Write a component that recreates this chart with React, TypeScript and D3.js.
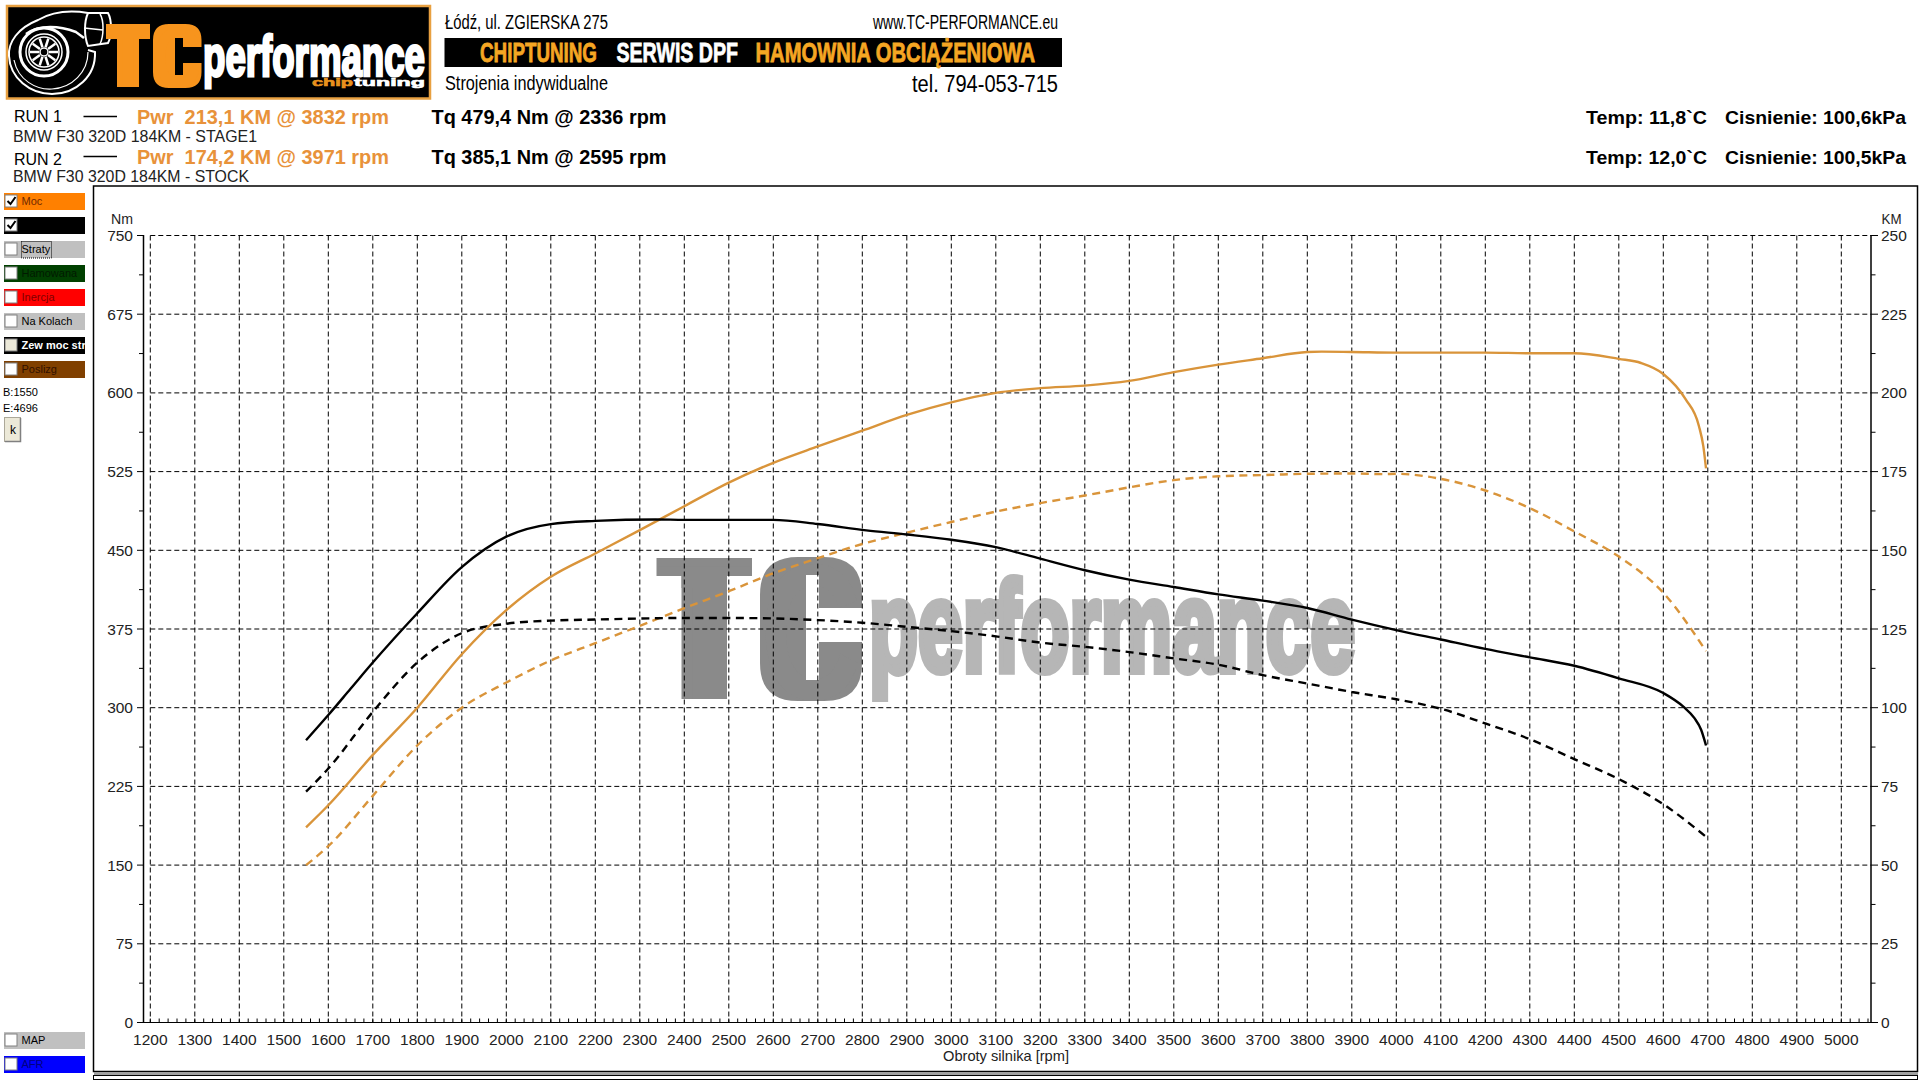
import React from "react";
import * as d3 from "d3";

const rpmTq1 = [1550,1600,1650,1700,1800,1900,2000,2100,2200,2336,2400,2500,2600,2700,2809,2900,3000,3100,3200,3300,3400,3500,3600,3700,3800,3900,4000,4100,4200,4300,4400,4500,4600,4645,4670,4685,4696];
const tq1 = [269,293,318,343,390,434,463,475,478,479.4,479,479,479,475,469,465,460,453,442,431,422,415,408,402,395,384,374,365,356,348,340,328,314,301,290,279,264];
const rpmTq2 = [1550,1600,1700,1800,1900,2000,2100,2200,2300,2400,2500,2595,2700,2800,2900,3000,3100,3200,3300,3400,3500,3600,3700,3800,3900,4000,4100,4200,4300,4400,4500,4600,4696];
const tq2 = [220,242,296,343,371,380,383,384,385,385.5,385.5,385.1,383.5,381,377,373,368,362,358,353,347,341,331,323,315,308,299,285,270,251,232,208,177];
const rpmPw1 = [1550,1600,1700,1800,1900,2000,2100,2200,2300,2400,2500,2600,2700,2800,2900,3000,3100,3200,3300,3400,3500,3600,3700,3800,3832,3900,4000,4100,4200,4300,4400,4500,4550,4600,4650,4680,4690,4696];
const pw1 = [62,69,85,100,117,131,141.6,149,156.4,164,171.5,177.8,183,188,193,197,200,201.5,202.3,203.8,206.6,209,211,213,213.1,213,212.8,212.8,212.8,212.6,212.6,210.8,209.5,206,198,189.5,183,176];
const rpmPw2 = [1550,1600,1700,1800,1900,2000,2100,2200,2300,2400,2500,2600,2700,2800,2900,3000,3100,3200,3300,3400,3500,3600,3700,3800,3900,3971,4000,4100,4200,4300,4400,4500,4600,4696];
const pw2 = [50,56,72,88,100,108,115,120.5,126,131.6,137,142.7,147.5,152,155.6,159,162.3,165,167.4,170,172.3,173.5,173.9,174.3,174.4,174.2,174.3,172.7,169,163.4,156,148,136.5,118];

const rpmTicks = d3.range(1200, 5001, 100);
const nmTicks = d3.range(0, 751, 75);
const kmTicks = d3.range(0, 251, 25);

const buttonsTop = [
  { label: "Moc", bg: "#ff8000", fg: "#702800", checked: true },
  { label: "", bg: "#000000", fg: "#000000", checked: true },
  { label: "Straty", bg: "#c0c0c0", fg: "#000000", checked: false },
  { label: "Hamowana", bg: "#004000", fg: "#001a00", checked: false },
  { label: "Inercja", bg: "#ff0000", fg: "#800000", checked: false },
  { label: "Na Kolach", bg: "#c0c0c0", fg: "#000000", checked: false },
  { label: "Zew moc str", bg: "#000000", fg: "#ffffff", checked: false },
  { label: "Poslizg", bg: "#804000", fg: "#301000", checked: false },
];
const buttonsBottom = [
  { label: "MAP", bg: "#c0c0c0", fg: "#000000", y: 1032 },
  { label: "AFR", bg: "#0000ff", fg: "#000080", y: 1056 },
];

const SANS = "'Liberation Sans', Arial, sans-serif";
const NARROW = "'Liberation Sans Narrow', 'Liberation Sans', sans-serif";
const ORANGE_TXT = "#e8923a";
const LINE_ORANGE = "#d9943a";

const x = d3.scaleLinear().domain([1200, 5000]).range([150.3, 1841.3]);
const yNm = d3.scaleLinear().domain([0, 750]).range([1022.5, 235.5]);
const yKm = d3.scaleLinear().domain([0, 250]).range([1022.5, 235.5]);

function T(p: any) {
  const { w, children, f, s, b, c, ...rest } = p;
  return (
    <text fontFamily={f || SANS} fontSize={s} fontWeight={b ? "bold" : "normal"} fill={c || "#000"}
      textLength={w} lengthAdjust={w ? "spacingAndGlyphs" : undefined} xmlSpace="preserve" {...rest}>
      {children}
    </text>
  );
}

function linePath(xs: number[], ys: number[], yScale: any) {
  const pts = xs.map((d, i) => [x(d), yScale(ys[i])] as [number, number]);
  return d3.line().curve(d3.curveMonotoneX)(pts) || "";
}

function cShape(x0: number, x1: number, y0: number, y1: number, r: number, a: number, b: number, c: number, d: number, e: number, f: number) {
  return `M${x0 + r} ${y0}H${x1 - r}Q${x1} ${y0} ${x1} ${y0 + r}V${e}H${b}V${c}H${a}V${d}H${b}V${f}H${x1}V${y1 - r}Q${x1} ${y1} ${x1 - r} ${y1}H${x0 + r}Q${x0} ${y1} ${x0} ${y1 - r}V${y0 + r}Q${x0} ${y0} ${x0 + r} ${y0}Z`;
}
function tShape(x0: number, x1: number, y0: number, y1: number, bar: number, s0: number, s1: number) {
  return `M${x0} ${y0}H${x1}V${y0 + bar}H${s1}V${y1}H${s0}V${y0 + bar}H${x0}Z`;
}

function BlockLetter({ id, d, fill, ch, X, w, y, s }: any) {
  return (
    <g>
      <clipPath id={id}><path d={d} /></clipPath>
      <path d={d} fill={fill} />
      <T x={X} y={y} w={w} s={s} b f={NARROW} c={fill} clipPath={`url(#${id})`}>{ch}</T>
    </g>
  );
}

function Check({ X, Y, on, beige }: any) {
  return (
    <g>
      <rect x={X} y={Y} width={12} height={12} fill={beige ? "#ece9d8" : "#fff"} stroke="#808080" strokeWidth={1} />
      {on && <path d={`M${X + 2.5} ${Y + 6}l3 3l5 -7`} fill="none" stroke="#000" strokeWidth={2} />}
    </g>
  );
}

function Logo() {
  return (
    <g>
      <rect x={7} y={6} width={423} height={92.5} fill="#000" stroke="#e8a040" strokeWidth={2.5} />
      <g fill="none" stroke="#fff">
        <path d="M88 13 C70 10 52 12 38 20 C18 28 8 42 9 56 C10 78 30 94 52 94 C76 94 96 76 95 52 L88 50" strokeWidth={2} />
        <path d="M14 60 C18 80 36 90 52 89 C72 88 88 72 88 52" strokeWidth={1.2} />
        <path d="M26 34 C40 24 60 26 76 32 L84 38" strokeWidth={2.5} />
        <circle cx={44} cy={52} r={24} strokeWidth={3} />
        <circle cx={44} cy={52} r={18} strokeWidth={1.5} />
        <circle cx={44} cy={52} r={15} strokeWidth={1.5} />
        <circle cx={44} cy={52} r={4} strokeWidth={1.5} />
        {[0, 36, 72, 108, 144, 180, 216, 252, 288, 324].map((a) => (
          <line key={a} x1={44 + 5 * Math.cos((a * Math.PI) / 180)} y1={52 + 5 * Math.sin((a * Math.PI) / 180)}
            x2={44 + 14 * Math.cos((a * Math.PI) / 180)} y2={52 + 14 * Math.sin((a * Math.PI) / 180)} strokeWidth={2.5} />
        ))}
        <path d="M88 13 L108 13 C112 20 112 36 108 43 L88 46 C84 36 84 22 88 13 Z" strokeWidth={2} />
        <path d="M84 28 L103 30 M100 14 C104 20 104 36 100 44" strokeWidth={1.5} />
      </g>
      <BlockLetter id="lt" d={tShape(106, 150, 24, 87, 15, 117, 139)} fill="#f7941d" ch="T" X={106} w={44} y={87} s={86} />
      <BlockLetter id="lc" d={cShape(153, 201.5, 24, 88, 16, 175, 183, 38, 75, 47, 63)} fill="#f7941d" ch="C" X={153} w={48} y={87} s={86} />
      <T x={203} y={75.5} w={222} s={58} b f={NARROW} c="#fff" stroke="#fff" strokeWidth={3}>performance</T>
      <rect x={311} y={77.5} width={115} height={9} fill="#000" />
      <T x={312} y={86} w={41} s={11} b c="#e8921e" stroke="#e8921e" strokeWidth={0.6}>chip</T>
      <T x={354} y={86} w={71} s={11} b c="#fff" stroke="#fff" strokeWidth={0.6}>tuning</T>
    </g>
  );
}

function Header() {
  return (
    <g>
      <T x={445} y={29} w={163} s={20} f={NARROW}>Łódź, ul. ZGIERSKA 275</T>
      <T x={873} y={29} w={185} s={20} f={NARROW}>www.TC-PERFORMANCE.eu</T>
      <rect x={444.5} y={38} width={617.5} height={29} fill="#000" />
      <T x={480} y={61.5} w={117} s={27} b f={NARROW} c="#f5a623" stroke="#f5a623" strokeWidth={0.8}>CHIPTUNING</T>
      <T x={616.5} y={61.5} w={121.5} s={27} b f={NARROW} c="#fff" stroke="#fff" strokeWidth={0.8}>SERWIS DPF</T>
      <T x={755.5} y={61.5} w={279.5} s={27} b f={NARROW} c="#f5a623" stroke="#f5a623" strokeWidth={0.8}>HAMOWNIA OBCIĄŻENIOWA</T>
      <T x={445} y={90} w={163} s={20} f={NARROW}>Strojenia indywidualne</T>
      <T x={912} y={92} w={146} s={23} f={NARROW}>tel. 794-053-715</T>

      <T x={14} y={122} w={48} s={17}>RUN 1</T>
      <line x1={83.5} x2={117} y1={116.5} y2={116.5} stroke="#000" strokeWidth={1.5} />
      <T x={137} y={124} w={252} s={20} b c={ORANGE_TXT}>Pwr  213,1 KM @ 3832 rpm</T>
      <T x={431.5} y={124} w={235} s={20} b>Tq 479,4 Nm @ 2336 rpm</T>
      <T x={13} y={142} w={244} s={17} c="#222">BMW F30 320D 184KM - STAGE1</T>
      <T x={1586} y={124} w={121} s={19} b>Temp: 11,8`C</T>
      <T x={1725} y={124} w={181} s={19} b>Cisnienie: 100,6kPa</T>

      <T x={14} y={165} w={48} s={17}>RUN 2</T>
      <line x1={83.5} x2={117} y1={156.5} y2={156.5} stroke="#000" strokeWidth={1.5} />
      <T x={137} y={164} w={252} s={20} b c={ORANGE_TXT}>Pwr  174,2 KM @ 3971 rpm</T>
      <T x={431.5} y={164} w={235} s={20} b>Tq 385,1 Nm @ 2595 rpm</T>
      <T x={13} y={182} w={236} s={17} c="#222">BMW F30 320D 184KM - STOCK</T>
      <T x={1586} y={164} w={121} s={19} b>Temp: 12,0`C</T>
      <T x={1725} y={164} w={181} s={19} b>Cisnienie: 100,5kPa</T>
    </g>
  );
}

function SidePanel() {
  return (
    <g>
      <defs>
        <clipPath id="btn"><rect x={4} y={186} width={81} height={200} /></clipPath>
      </defs>
      {buttonsTop.map((b, i) => {
        const Y = 193 + i * 24;
        return (
          <g key={i}>
            <rect x={4} y={Y} width={81} height={17} fill={b.bg} />
            <Check X={5} Y={Y + 2} on={b.checked} beige={b.label === "Zew moc str"} />
            <T x={21.5} y={Y + 12} s={11} c={b.fg} b={b.label === "Zew moc str"} clipPath="url(#btn)">{b.label}</T>
          </g>
        );
      })}
      <rect x={21.5} y={241.5} width={30} height={16.5} fill="none" stroke="#000" strokeDasharray="1 1" />
      <T x={3} y={396} s={11}>B:1550</T>
      <T x={3} y={412} s={11}>E:4696</T>
      <rect x={4.5} y={417.5} width={16} height={24} fill="#ece9d8" stroke="#aca899" />
      <path d="M20.5 418V441.5H5" stroke="#808080" fill="none" strokeWidth={1.5} />
      <T x={10} y={434} s={12}>k</T>
      {buttonsBottom.map((b) => (
        <g key={b.label}>
          <rect x={4} y={b.y} width={81} height={17} fill={b.bg} />
          <Check X={5} Y={b.y + 2} on={false} />
          <T x={21.5} y={b.y + 12} s={11} c={b.fg}>{b.label}</T>
        </g>
      ))}
    </g>
  );
}

function Watermark() {
  return (
    <g>
      <BlockLetter id="wt" d={tShape(656.5, 752, 558, 699, 18, 681.5, 727)} fill="#8a8a8a" ch="T" X={656.5} w={95.5} y={699} s={193} />
      <BlockLetter id="wc" d={cShape(760, 862, 557, 701, 38, 806, 819, 575, 680, 608, 642)} fill="#8a8a8a" ch="C" X={760} w={102} y={699} s={193} />
      <T x={869} y={671} w={486} s={128} b f={NARROW} c="#b6b6b6" stroke="#b6b6b6" strokeWidth={8}>performance</T>
    </g>
  );
}

function Chart() {
  const dash = "5 3";
  const minorX = d3.range(1200, 5061, 20);
  return (
    <g>
      <rect x={93.5} y={186} width={1824} height={885.5} fill="#fff" stroke="#000" strokeWidth={1.5} />
      <rect x={94} y={1072} width={1824} height={3} fill="#a0a0a0" />
      <rect x={93.5} y={1075.5} width={1824} height={4} fill="none" stroke="#000" strokeWidth={1} />
      <Watermark />
      {nmTicks.filter((d) => d > 0).map((d) => (
        <line key={d} x1={150.3} x2={1871} y1={yNm(d)} y2={yNm(d)} stroke="#000" strokeDasharray={dash} />
      ))}
      {rpmTicks.map((d) => (
        <line key={d} x1={x(d)} x2={x(d)} y1={235.5} y2={1022.5} stroke="#000" strokeDasharray={dash} />
      ))}
      <line x1={143.5} x2={143.5} y1={235} y2={1023} stroke="#000" strokeWidth={1.5} />
      <line x1={1871} x2={1871} y1={235} y2={1023} stroke="#000" strokeWidth={1.5} />
      <line x1={137} x2={1877} y1={1022.5} y2={1022.5} stroke="#000" strokeWidth={1.2} />
      {minorX.map((d) => (
        <line key={d} x1={x(d)} x2={x(d)} y1={1018.5} y2={1022.5} stroke="#000" />
      ))}
      {d3.range(37.5, 750, 75).map((d) => (
        <g key={d}>
          <line x1={139} x2={143.5} y1={yNm(d)} y2={yNm(d)} stroke="#000" />
          <line x1={1871} x2={1875.5} y1={yNm(d)} y2={yNm(d)} stroke="#000" />
        </g>
      ))}
      {nmTicks.map((d) => (
        <g key={d}>
          <line x1={137} x2={143.5} y1={yNm(d)} y2={yNm(d)} stroke="#000" />
          <T x={133} y={yNm(d) + 5.5} s={15.5} textAnchor="end" c="#222">{d}</T>
        </g>
      ))}
      {kmTicks.map((d) => (
        <g key={d}>
          <line x1={1871} x2={1878} y1={yKm(d)} y2={yKm(d)} stroke="#000" />
          <T x={1881} y={yKm(d) + 5.5} s={15.5} c="#222">{d}</T>
        </g>
      ))}
      {rpmTicks.map((d) => (
        <T key={d} x={x(d)} y={1044.5} s={15.5} textAnchor="middle" c="#222">{d}</T>
      ))}
      <T x={111} y={224} s={15} w={22} c="#222">Nm</T>
      <T x={1881.5} y={223.5} s={15} w={20} c="#222">KM</T>
      <T x={943} y={1061} w={126} s={15} c="#222">Obroty silnika [rpm]</T>

      <path d={linePath(rpmPw2, pw2, yKm)} fill="none" stroke={LINE_ORANGE} strokeWidth={2.4} strokeDasharray="8 5.5" />
      <path d={linePath(rpmTq2, tq2, yNm)} fill="none" stroke="#000" strokeWidth={2.4} strokeDasharray="8 5.5" />
      <path d={linePath(rpmPw1, pw1, yKm)} fill="none" stroke={LINE_ORANGE} strokeWidth={2.4} />
      <path d={linePath(rpmTq1, tq1, yNm)} fill="none" stroke="#000" strokeWidth={2.4} />
    </g>
  );
}

export default function App() {
  return (
    <svg width={1920} height={1080} viewBox="0 0 1920 1080"
      style={{ position: "fixed", left: 0, top: 0, display: "block", background: "#fff" }}>
      <Logo />
      <Header />
      <SidePanel />
      <Chart />
    </svg>
  );
}
